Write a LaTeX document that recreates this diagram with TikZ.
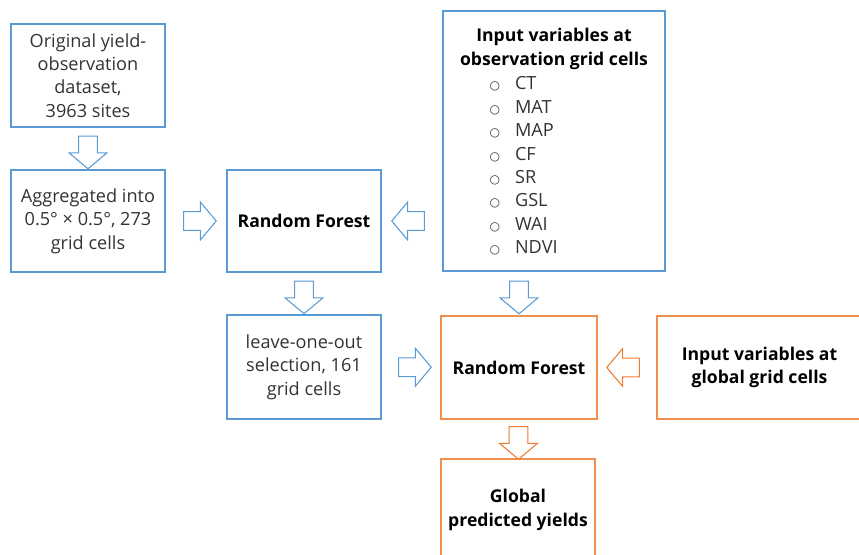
\documentclass[tikz,border=0pt]{standalone}
\usepackage{fontspec}
\setmainfont{Open Sans}
\newfontfamily\symfont{DejaVu Sans}
\usetikzlibrary{shapes.arrows, positioning, calc}
\definecolor{flowblue}{HTML}{5B9BD5}
\definecolor{floworange}{HTML}{ED7D31}
\tikzset{box/.style={draw=flowblue, line width=0.8pt, align=center, inner sep=2pt,
                     text=black!80, font=\fontsize{13.6}{17.5}\selectfont},
         gbox/.style={box, draw=floworange!85},
         bold/.style={font=\fontsize{13.2}{17.5}\selectfont\bfseries, text=black},
         barrow/.style={single arrow, draw=flowblue, line width=0.8pt, fill=white,
                        inner xsep=0pt, inner ysep=6.6pt, minimum height=24.5pt,
                        single arrow head extend=7.2pt, single arrow tip angle=100},
         garrow/.style={barrow, draw=floworange},
         item/.style={anchor=west, text=black!80, font=\fontsize{13.6}{14}\selectfont},
        }

\begin{document}
\begin{tikzpicture}[x=0.75pt, y=-0.75pt]
        \useasboundingbox (0,0) rectangle (859,555);

        \node[box, minimum width=115.5pt, minimum height=77.25pt](orig)at(88,75.5){Original yield-\\observation\\dataset,\\3963 sites};
        \node[box, minimum width=115.5pt, minimum height=76.5pt](agg)at(88,221){Aggregated into\\0.5° × 0.5°, 273\\grid cells};
        \node[box, bold, minimum width=115.5pt, minimum height=76.5pt](rf1)at(304,221){Random Forest};
        \node[box, minimum width=166.5pt, minimum height=195pt](obs)at(554,141){};
        \node[box, minimum width=115.5pt, minimum height=78pt](loo)at(304,367){leave-one-out\\selection, 161\\grid cells};
        \node[gbox, bold, minimum width=117pt, minimum height=77.25pt](rf2)at(519,367.5){Random Forest};
        \node[gbox, bold, minimum width=153.75pt, minimum height=77.25pt](glob)at(759.5,367.5){Input variables at\\global grid cells};
        \node[gbox, bold, minimum width=115.5pt, minimum height=76.5pt](pred)at(518,510){Global\\predicted yields};

        % variables list in the observation box
        \node[bold, align=center](obstitle)at(554,49){Input variables at\\observation grid cells};
        \foreach \v [count=\i] in {CT,MAT,MAP,CF,SR,GSL,WAI,NDVI}
            \node[item](var\i)at(485,{84+23.4*(\i-1)}){\makebox[19pt][l]{\symfont\fontsize{9}{9}\selectfont ○}\v};

        % block arrows
        \node[barrow, rotate=-90](a1)at($(orig.south)!0.5!(agg.north)$){};
        \node[barrow](a2)at($(agg.east)!0.5!(rf1.west)$){};
        \node[barrow, rotate=180](a3)at($(obs.west|-rf1)!0.5!(rf1.east)$){};
        \node[barrow, rotate=-90](a4)at($(rf1.south)!0.5!(loo.north)$){};
        \node[barrow](a5)at($(loo.east)!0.5!(rf2.west)$){};
        \node[barrow, rotate=-90](a6)at($(obs.south-|rf2)!0.5!(rf2.north)$){};
        \node[garrow, rotate=180](a7)at($(glob.west)!0.5!(rf2.east)$){};
        \node[garrow, rotate=-90](a8)at($(rf2.south)!0.5!(pred.north)$){};
    \end{tikzpicture}
\end{document}
